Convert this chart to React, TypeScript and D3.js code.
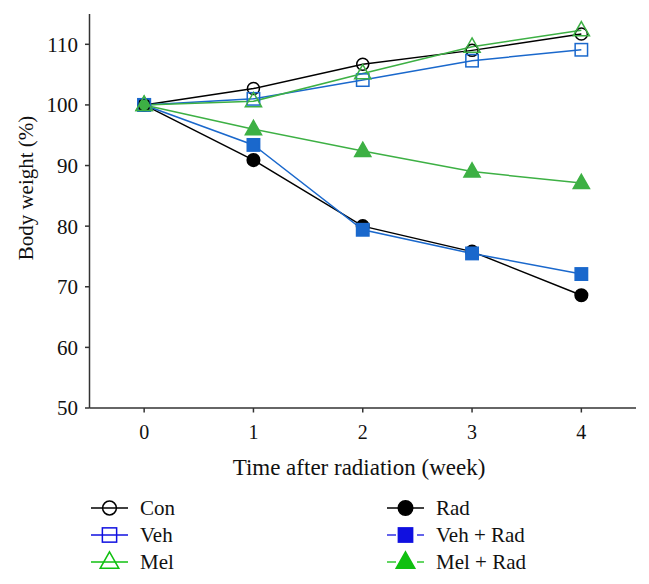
import React from "react";
import * as d3 from "d3";

const weeks = [0, 1, 2, 3, 4];
const conValues = [100, 102.7, 106.7, 109.0, 111.7];
const vehValues = [100, 101.0, 104.1, 107.3, 109.1];
const melValues = [100, 100.6, 105.2, 109.6, 112.3];
const radValues = [100, 90.9, 80.0, 75.8, 68.6];
const vehRadValues = [100, 93.4, 79.4, 75.5, 72.1];
const melRadValues = [100, 96.0, 92.4, 89.0, 87.1];
const yTicks = [50, 60, 70, 80, 90, 100, 110];
const xTicks = [0, 1, 2, 3, 4];

const BLACK = "#000000";
const BLUE = "#1a68cc";
const GREEN = "#3db044";
const LBLUE = "#1010e0";
const LGREEN = "#10c010";

type Series = {
  name: string;
  values: number[];
  color: string;
  legendColor: string;
  shape: "circle" | "square" | "triangle";
  filled: boolean;
  dashed: boolean;
};

const series: Series[] = [
  { name: "Con", values: conValues, color: BLACK, legendColor: BLACK, shape: "circle", filled: false, dashed: false },
  { name: "Veh", values: vehValues, color: BLUE, legendColor: LBLUE, shape: "square", filled: false, dashed: false },
  { name: "Mel", values: melValues, color: GREEN, legendColor: LGREEN, shape: "triangle", filled: false, dashed: false },
  { name: "Rad", values: radValues, color: BLACK, legendColor: BLACK, shape: "circle", filled: true, dashed: false },
  { name: "Veh + Rad", values: vehRadValues, color: BLUE, legendColor: LBLUE, shape: "square", filled: true, dashed: true },
  { name: "Mel + Rad", values: melRadValues, color: GREEN, legendColor: LGREEN, shape: "triangle", filled: true, dashed: true },
];

const FONT = "'Liberation Serif', 'DejaVu Serif', serif";

function Marker({ x, y, s, color, k = 1 }: { x: number; y: number; s: Series; color: string; k?: number }) {
  const fill = s.filled ? color : "none";
  const sw = 1.5;
  if (s.shape === "circle") {
    const r = (s.filled ? 6.3 : 6) * k;
    return <circle cx={x} cy={y} r={r} fill={fill} stroke={color} strokeWidth={sw} />;
  }
  if (s.shape === "square") {
    const h = 6.2 * k;
    return <rect x={x - h} y={y - h} width={2 * h} height={2 * h} fill={fill} stroke={color} strokeWidth={sw} />;
  }
  const t = 8.8 * k;
  const pts = `${x},${y - t} ${x + t * 0.92},${y + t * 0.62} ${x - t * 0.92},${y + t * 0.62}`;
  return <polygon points={pts} fill={fill} stroke={color} strokeWidth={sw} strokeLinejoin="miter" />;
}

export default function App() {
  const width = 649;
  const height = 584;
  const x = d3.scaleLinear().domain([-0.5, 4.5]).range([89.5, 636]);
  const y = d3.scaleLinear().domain([50, 115]).range([408, 14]);
  const line = d3
    .line<number>()
    .x((_, i) => x(weeks[i]))
    .y((d) => y(d));

  const drawOrder = [3, 4, 5, 0, 1, 2];

  const legendLeft = [0, 1, 2];
  const legendRight = [3, 4, 5];
  const rowY = [508, 535, 562];

  const legendItem = (idx: number, row: number, lx: number) => {
    const s = series[idx];
    const cy = rowY[row];
    const c = s.legendColor;
    const lineEl = s.dashed ? (
      <g>
        <line x1={lx} x2={lx + 9} y1={cy} y2={cy} stroke={c} strokeWidth={1.3} />
        <line x1={lx + 30} x2={lx + 37} y1={cy} y2={cy} stroke={c} strokeWidth={1.3} />
      </g>
    ) : (
      <line x1={lx} x2={lx + 37} y1={cy} y2={cy} stroke={c} strokeWidth={1.3} />
    );
    return (
      <g key={s.name}>
        {lineEl}
        <Marker x={lx + 18.5} y={cy} s={s} color={c} k={1.15} />
        <text x={lx + 49} y={cy} dy="0.35em" fontSize={21} fontFamily={FONT} fill="#111">
          {s.name}
        </text>
      </g>
    );
  };

  return (
    <svg width={width} height={height} style={{ position: "absolute", left: 0, top: 0, background: "#fff" }}>
      <rect width={width} height={height} fill="#fff" />
      {/* axes */}
      <line x1={89.5} x2={89.5} y1={14} y2={408} stroke="#333" strokeWidth={1.5} />
      <line x1={89.5} x2={636} y1={408} y2={408} stroke="#333" strokeWidth={1.5} />
      {yTicks.map((t) => (
        <g key={"y" + t}>
          <line x1={85} x2={89.5} y1={y(t)} y2={y(t)} stroke="#333" strokeWidth={1.5} />
          <text x={78} y={y(t)} dy="0.35em" textAnchor="end" fontSize={21} fontFamily={FONT} fill="#111">
            {t}
          </text>
        </g>
      ))}
      {xTicks.map((t) => (
        <g key={"x" + t}>
          <line x1={x(t)} x2={x(t)} y1={408} y2={412.5} stroke="#333" strokeWidth={1.5} />
          <text x={x(t)} y={432} dy="0.35em" textAnchor="middle" fontSize={20} fontFamily={FONT} fill="#111">
            {t}
          </text>
        </g>
      ))}
      <text x={359} y={467} dy="0.35em" textAnchor="middle" fontSize={23} fontFamily={FONT} fill="#111">
        Time after radiation (week)
      </text>
      <text
        transform={`translate(26, 188) rotate(-90)`}
        dy="0.35em"
        textAnchor="middle"
        fontSize={21}
        fontFamily={FONT}
        fill="#111"
      >
        Body weight (%)
      </text>
      {/* lines */}
      {drawOrder.map((i) => {
        const s = series[i];
        return (
          <path key={"l" + s.name} d={line(s.values) || ""} fill="none" stroke={s.color} strokeWidth={1.5} />
        );
      })}
      {drawOrder.map((i) => {
        const s = series[i];
        return (
          <g key={"m" + s.name}>
            {s.values.map((v, j) => (
              <Marker key={j} x={x(weeks[j])} y={y(v)} s={s} color={s.color} />
            ))}
          </g>
        );
      })}
      {/* legend */}
      {legendLeft.map((idx, r) => legendItem(idx, r, 91))}
      {legendRight.map((idx, r) => legendItem(idx, r, 387))}
    </svg>
  );
}
